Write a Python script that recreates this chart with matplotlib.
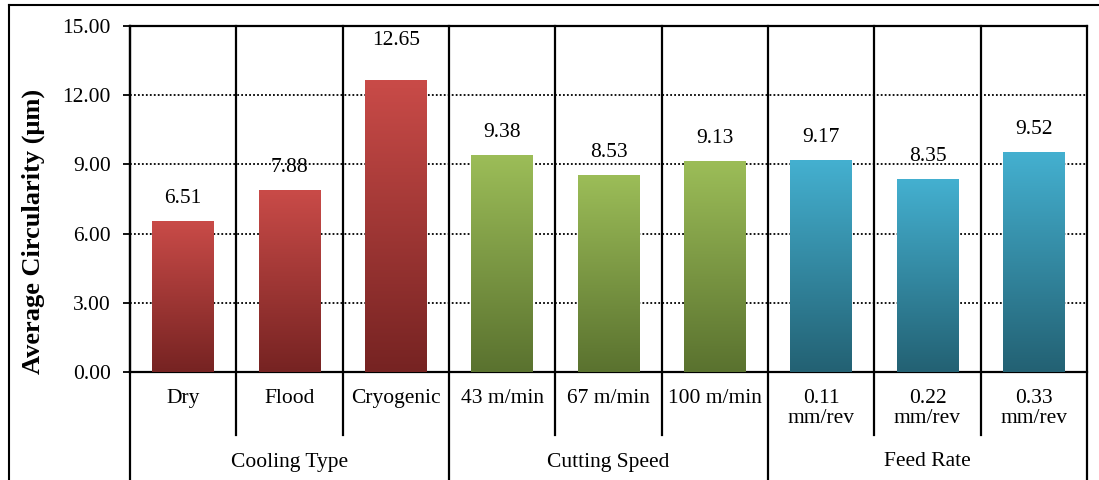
import numpy as np
import matplotlib
matplotlib.use('Agg')
import matplotlib.pyplot as plt
from matplotlib.colors import LinearSegmentedColormap
from matplotlib.lines import Line2D

plt.rcParams['font.family'] = ['Liberation Serif', 'DejaVu Serif']

#%% Data

categories = ['Dry', 'Flood', 'Cryogenic',
              '43 m/min', '67 m/min', '100 m/min',
              '0.11\nmm/rev', '0.22\nmm/rev', '0.33\nmm/rev']
circularity = [6.51, 7.88, 12.65, 9.38, 8.53, 9.13, 9.17, 8.35, 9.52]
groups = ['Cooling Type', 'Cutting Speed', 'Feed Rate']
group_sizes = [3, 3, 3]
y_ticks = [0, 3, 6, 9, 12, 15]

# top / bottom colour of each group's gradient
group_colors = [('#C94B48', '#762322'),
                ('#9CBD58', '#5A722F'),
                ('#44B0D0', '#236173')]

FS = 15.5

#%% Figure

W, H = 1099, 480
fig = plt.figure(figsize=(W / 100, H / 100), dpi=100)
left_px, right_px, top_px, bottom_px = 130, 1087, 26, 372
ax = fig.add_axes([left_px / W, 1 - bottom_px / H,
                   (right_px - left_px) / W, (bottom_px - top_px) / H])
ax_h = bottom_px - top_px

n = len(categories)
x = np.arange(n)
bars = ax.bar(x, circularity, width=0.58, color='none', zorder=3)

# gradient fill for each bar
grad = np.linspace(1, 0, 256).reshape(-1, 1)
bar_group = np.repeat(np.arange(len(groups)), group_sizes)
for i, b in enumerate(bars):
    top_c, bot_c = group_colors[bar_group[i]]
    cmap = LinearSegmentedColormap.from_list('g%d' % i, [bot_c, top_c])
    x0 = b.get_x()
    ax.imshow(grad, extent=[x0, x0 + b.get_width(), 0, b.get_height()],
              aspect='auto', cmap=cmap, vmin=0, vmax=1, zorder=3,
              interpolation='bilinear')

# value labels
lift = [1.0] * n
lift[2] = 1.7
for i, v in enumerate(circularity):
    ax.text(x[i], v + lift[i], '%.2f' % v, ha='center', va='center',
            fontsize=FS, zorder=4)

ax.set_xlim(-0.5, n - 0.5)
ax.set_ylim(0, 15)
ax.set_yticks(y_ticks)
ax.set_yticklabels(['%.2f' % t for t in y_ticks], fontsize=FS)
ax.tick_params(axis='y', direction='out', length=5, width=1.3, pad=9)
ax.set_xticks([])

# dotted gridlines
for t in y_ticks[1:-1]:
    ax.axhline(t, color='black', lw=1.3, linestyle=(0, (1, 1.2)), zorder=1)

for s in ['left', 'top', 'bottom']:
    ax.spines[s].set_linewidth(1.6)
ax.spines['right'].set_visible(False)

# category separators, extended down into the label area
inner_bottom = -(435 - bottom_px) / ax_h
group_bottom = -(H - bottom_px) / ax_h
group_edges = np.cumsum([0] + group_sizes)
for k in range(n + 1):
    y_end = group_bottom if k in group_edges else inner_bottom
    ax.plot([k - 0.5, k - 0.5], [1, y_end], color='black', lw=1.6,
            transform=ax.get_xaxis_transform(), clip_on=False, zorder=5)

# category and group labels
for i, c in enumerate(categories):
    ax.text(x[i], -(389 - bottom_px) / ax_h, c,
            ha='center', va='top', fontsize=FS, linespacing=1.1,
            transform=ax.get_xaxis_transform())
for g, name in enumerate(groups):
    xc = (group_edges[g] + group_edges[g + 1] - 1) / 2
    ax.text(xc, -(462 - bottom_px) / ax_h, name,
            ha='center', va='center', fontsize=FS,
            transform=ax.get_xaxis_transform())

fig.text(33 / W, 1 - 231 / H, 'Average Circularity (μm)', rotation=90,
         ha='center', va='center', fontsize=19, fontweight='bold')

# outer frame
fig.add_artist(Line2D([9 / W, 9 / W], [0, 1 - 5 / H], color='black', lw=1.5))
fig.add_artist(Line2D([9 / W, 1], [1 - 5 / H, 1 - 5 / H], color='black', lw=1.5))

plt.savefig('out.png', dpi=100)
